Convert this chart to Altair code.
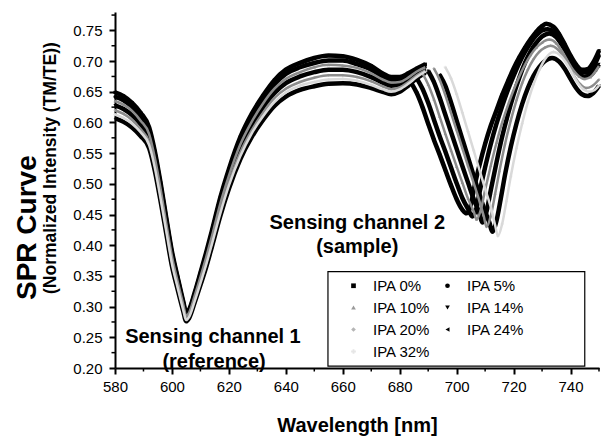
import altair as alt
import pandas as pd

series_names = ["IPA 0%", "IPA 5%", "IPA 10%", "IPA 14%", "IPA 20%", "IPA 24%", "IPA 32%"]
# legend order (filled column by column, giving rows 0/5, 10/14, 20/24, 32)
legend_order = ["IPA 0%", "IPA 10%", "IPA 20%", "IPA 32%", "IPA 5%", "IPA 14%", "IPA 24%"]
legend_shapes = ["square", "triangle-up", "diamond", "cross", "circle", "triangle-down", "triangle-left"]
legend_colors = ["#000000", "#9a9a9a", "#b5b5b5", "#e6e6e6", "#000000", "#000000", "#000000"]
black_series = ["IPA 0%", "IPA 5%", "IPA 14%", "IPA 24%"]
gray_series = ["IPA 10%", "IPA 20%"]
light_series = ["IPA 32%"]

# Sensing channel 1 (reference)
wl_ch1 = [580, 583, 586, 589, 592, 594, 596, 598, 600, 602, 604, 605, 606, 608, 610, 612, 614, 617, 620, 624,
          628, 632, 636, 640, 645, 650, 655, 660, 665, 670, 674, 677, 680, 683, 686, 689]
r_ch1_ipa0 = [.649, .643, .632, .616, .592, .553, .502, .445, .390, .348, .308, .290, .295, .323, .355, .388, .423, .478, .524, .576,
              .614, .644, .669, .686, .697, .705, .709, .708, .702, .692, .680, .674, .674, .680, .688, .695]
r_ch1_ipa5 = [.642, .636, .625, .610, .586, .548, .497, .441, .386, .345, .305, .288, .293, .320, .352, .384, .419, .473, .519, .570,
              .608, .637, .662, .679, .690, .697, .701, .701, .695, .686, .675, .669, .670, .677, .685, .693]
r_ch1_ipa10 = [.635, .629, .619, .603, .581, .542, .492, .436, .382, .341, .303, .285, .290, .318, .348, .380, .414, .468, .513, .564,
               .601, .631, .655, .671, .682, .690, .694, .693, .689, .680, .670, .665, .666, .673, .683, .690]
r_ch1_ipa14 = [.628, .622, .612, .597, .575, .537, .487, .432, .378, .338, .300, .283, .288, .315, .345, .376, .410, .463, .508, .558,
               .595, .624, .648, .664, .675, .682, .686, .686, .682, .674, .665, .660, .662, .670, .680, .688]
r_ch1_ipa20 = [.620, .614, .604, .589, .568, .531, .481, .427, .373, .334, .297, .280, .285, .312, .341, .371, .405, .457, .502, .551,
               .587, .616, .640, .655, .666, .673, .677, .677, .674, .667, .659, .654, .657, .666, .677, .685]
r_ch1_ipa24 = [.607, .601, .592, .578, .558, .521, .472, .419, .366, .328, .292, .276, .281, .307, .335, .364, .397, .448, .492, .540,
               .576, .604, .627, .642, .653, .659, .663, .664, .662, .656, .650, .646, .650, .660, .672, .681]
r_ch1_ipa32 = [.613, .607, .598, .584, .563, .526, .476, .423, .370, .331, .294, .278, .283, .309, .338, .368, .401, .452, .497, .545,
               .582, .610, .633, .649, .660, .666, .670, .671, .668, .661, .654, .650, .654, .663, .674, .683]

# Sensing channel 2 (sample)
wl_ch2_ipa0 = [684, 686, 688, 690, 692, 694, 696, 698, 700, 702, 703.5, 705, 706, 708, 710, 712, 714, 716, 718, 720,
               722, 724, 726, 728, 730, 731.5, 734, 736, 738, 740, 742, 744, 746, 748, 750]
r_ch2_ipa0 = [.665, .648, .625, .598, .572, .548, .523, .498, .475, .458, .452, .466, .49, .53, .565, .595, .62, .645, .667, .688,
              .706, .722, .736, .748, .757, .761, .756, .744, .727, .709, .694, .686, .687, .698, .717]
wl_ch2_ipa5 = [686, 688, 690, 692, 694, 696, 698, 700, 702, 704, 705.5, 707, 708, 710, 712, 714, 716, 718, 720, 722,
               724, 726, 728, 730, 732, 734, 736, 738, 740, 742, 744, 746, 748, 750]
r_ch2_ipa5 = [.672, .655, .632, .605, .578, .553, .527, .501, .477, .459, .447, .461, .485, .527, .565, .598, .627, .653, .676, .697,
              .715, .73, .742, .75, .752, .748, .737, .721, .704, .69, .682, .681, .69, .71]
wl_ch2_ipa10 = [688, 690, 692, 694, 696, 698, 700, 702, 704, 706, 707, 708.5, 710, 712, 714, 716, 718, 720, 722, 724,
                726, 728, 730, 732.5, 735, 737, 739, 741, 743, 745, 747, 749, 750]
r_ch2_ipa10 = [.68, .662, .638, .61, .582, .555, .528, .502, .476, .455, .442, .458, .49, .53, .567, .6, .628, .653, .675, .694,
               .71, .722, .73, .735, .729, .716, .7, .685, .675, .671, .674, .685, .692]
wl_ch2_ipa14 = [690, 692, 694, 696, 698, 700, 702, 704, 706, 708, 709, 710.5, 712, 714, 716, 718, 720, 722, 724, 726,
                728, 730, 732.5, 735, 737, 739, 741, 743, 745, 747, 749, 750]
r_ch2_ipa14 = [.684, .666, .641, .613, .585, .557, .529, .502, .475, .452, .437, .455, .49, .535, .577, .613, .645, .673, .697, .716,
               .73, .74, .745, .739, .726, .71, .693, .68, .674, .677, .688, .695]
wl_ch2_ipa20 = [692, 694, 696, 698, 700, 702, 704, 706, 708, 709.5, 710.5, 712, 713.5, 715, 717, 719, 721, 723, 725, 727,
                729, 731, 733, 735.5, 737.5, 739.5, 741.5, 743.5, 745.5, 747.5, 750]
r_ch2_ipa20 = [.688, .67, .645, .616, .587, .558, .529, .501, .472, .448, .43, .448, .483, .52, .565, .603, .636, .664, .686, .703,
               .715, .722, .725, .719, .707, .691, .674, .662, .656, .659, .670]
wl_ch2_ipa24 = [694, 696, 698, 700, 702, 704, 706, 708, 710, 711.5, 712.5, 714, 715.5, 717, 719, 721, 723, 725, 727, 729,
                731, 733.5, 736, 738, 740, 742, 744, 746, 748, 750]
r_ch2_ipa24 = [.678, .66, .633, .603, .573, .543, .513, .483, .455, .437, .422, .44, .476, .515, .56, .598, .63, .656, .676, .69,
               .7, .705, .699, .687, .671, .656, .646, .643, .648, .66]
wl_ch2_ipa32 = [696, 698, 700, 702, 704, 706, 708, 710, 712, 713.5, 714.5, 716, 717.5, 719, 721, 723, 725, 727, 729, 731,
                734, 736.5, 738.5, 740.5, 742.5, 744.5, 746.5, 748.5, 750]
r_ch2_ipa32 = [.69, .672, .646, .616, .585, .554, .523, .492, .462, .433, .415, .435, .472, .512, .558, .598, .633, .662, .685, .703,
               .715, .709, .697, .681, .665, .654, .65, .653, .66]

x_major = [580, 600, 620, 640, 660, 680, 700, 720, 740]
x_minor = [590, 610, 630, 650, 670, 690, 710, 730, 750]
y_major = [0.2, 0.25, 0.3, 0.35, 0.4, 0.45, 0.5, 0.55, 0.6, 0.65, 0.7, 0.75]
y_minor = [0.225, 0.275, 0.325, 0.375, 0.425, 0.475, 0.525, 0.575, 0.625, 0.675, 0.725, 0.775]

ann_text = ["Sensing channel 1", "(reference)", "Sensing channel 2", "(sample)"]
ann_wl = [614.4, 614.8, 665.1, 665.1]
ann_r = [0.25, 0.21, 0.436, 0.397]

# legend frame corners, in data units (wavelength, response)
frame_wl = [654.8, 745.0]
frame_r = [0.203, 0.357]

ch1 = [r_ch1_ipa0, r_ch1_ipa5, r_ch1_ipa10, r_ch1_ipa14, r_ch1_ipa20, r_ch1_ipa24, r_ch1_ipa32]
ch2 = [(wl_ch2_ipa0, r_ch2_ipa0), (wl_ch2_ipa5, r_ch2_ipa5), (wl_ch2_ipa10, r_ch2_ipa10),
       (wl_ch2_ipa14, r_ch2_ipa14), (wl_ch2_ipa20, r_ch2_ipa20), (wl_ch2_ipa24, r_ch2_ipa24),
       (wl_ch2_ipa32, r_ch2_ipa32)]

rows = []
for name, vals in zip(series_names, ch1):
    for w, r in zip(wl_ch1, vals):
        rows.append({"wl": w, "r": r, "series": name, "key": name + " ch1"})
for name, (wls, vals) in zip(series_names, ch2):
    for w, r in zip(wls, vals):
        rows.append({"wl": w, "r": r, "series": name, "key": name + " ch2"})
df = pd.DataFrame(rows)
ann = pd.DataFrame({"text": ann_text, "wl": ann_wl, "r": ann_r})
xminor_df = pd.DataFrame({"wl": x_minor})
yminor_df = pd.DataFrame({"r": y_minor})
frame_df = pd.DataFrame({"wl": [frame_wl[0]], "wl2": [frame_wl[1]], "r": [frame_r[0]], "r2": [frame_r[1]]})
one = pd.DataFrame({"k": [0]})

FONT = "Liberation Sans"

x_scale = alt.Scale(domain=[580, 750], nice=False, zero=False)
y_scale = alt.Scale(domain=[0.2, 0.78], nice=False, zero=False)
x_axis = alt.Axis(values=x_major, title="Wavelength [nm]", format="d", ticks=True, tickSize=6,
                  labelPadding=5, labelFlush=False, labelOverlap=False,
                  labelFont=FONT, labelFontSize=15, labelColor="black",
                  domainColor="black", domainWidth=2, tickColor="black", tickWidth=2, grid=False,
                  titleFont=FONT, titleColor="black",
                  titleFontSize=20, titleFontWeight="bold", titlePadding=21)
y_axis = alt.Axis(values=y_major, title=None, format=".2f", ticks=True, tickSize=6,
                  labelPadding=7, labelOverlap=False,
                  labelFont=FONT, labelFontSize=15, labelColor="black",
                  domainColor="black", domainWidth=2, tickColor="black", tickWidth=2, grid=False)
X = alt.X("wl:Q", scale=x_scale, axis=x_axis)
Y = alt.Y("r:Q", scale=y_scale, axis=y_axis)

base = alt.Chart(df)

# legend frame (styling only), placed through the chart scales
frame = alt.Chart(frame_df).mark_rect(fill="white", stroke="black", strokeWidth=1.2).encode(
    x=X, x2="wl2:Q", y=Y, y2="r2:Q")

points = base.mark_point(filled=True, size=10, opacity=1).encode(
    x=X, y=Y,
    color=alt.Color("series:N", scale=alt.Scale(domain=legend_order, range=legend_colors),
                    legend=alt.Legend(title=None, orient="none", legendX=213, legendY=257, columns=2,
                                      padding=9,
                                      labelFont=FONT, labelFontSize=15, labelColor="black",
                                      symbolSize=22, symbolStrokeWidth=0, rowPadding=6,
                                      columnPadding=0, labelOffset=12, symbolOffset=9)),
    shape=alt.Shape("series:N", scale=alt.Scale(domain=legend_order, range=legend_shapes)),
)

black_lines = base.transform_filter(alt.FieldOneOfPredicate(field="series", oneOf=black_series)).mark_line(
    color="black", strokeWidth=4.5, interpolate="monotone").encode(x=X, y=Y, detail="key:N")
gray_lines = base.transform_filter(alt.FieldOneOfPredicate(field="series", oneOf=gray_series)).mark_line(
    color="#8c8c8c", strokeWidth=2.5, interpolate="monotone").encode(x=X, y=Y, detail="key:N")
light_lines = base.transform_filter(alt.FieldOneOfPredicate(field="series", oneOf=light_series)).mark_line(
    color="#d9d9d9", strokeWidth=2.5, interpolate="monotone").encode(x=X, y=Y, detail="key:N")

xminor = alt.Chart(xminor_df).mark_rule(color="black", strokeWidth=1.5).encode(
    x=X, y=alt.value(356), y2=alt.value(359.5))
yminor = alt.Chart(yminor_df).mark_rule(color="black", strokeWidth=1.5).encode(
    y=Y, x=alt.value(0), x2=alt.value(-3.5))

labels = alt.Chart(ann).mark_text(font=FONT, fontSize=20, fontWeight="bold", color="black").encode(
    x=X, y=Y, text="text:N")

ytitle1 = alt.Chart(one).mark_text(font=FONT, fontSize=28, fontWeight="bold", angle=270, align="left",
                                   baseline="middle", color="black").encode(
    x=alt.value(-87), y=alt.value(288), text=alt.value("SPR Curve"))
ytitle2 = alt.Chart(one).mark_text(font=FONT, fontSize=17.5, fontWeight="bold", angle=270, align="left",
                                   baseline="middle", color="black").encode(
    x=alt.value(-64), y=alt.value(282), text=alt.value("(Normalized Intensity (TM/TE))"))

chart = alt.layer(frame, points, black_lines, gray_lines, light_lines, xminor, yminor,
                  labels, ytitle1, ytitle2).properties(
    width=484, height=356,
    background="white",
    autosize=alt.AutoSizeParams(type="none"),
    padding={"left": 115, "top": 12, "right": 5, "bottom": 68},
).configure_view(strokeWidth=0).configure_axis(
    domainColor="black", domainWidth=2, tickColor="black", tickWidth=2, grid=False,
    labelFont=FONT, labelFontSize=15, labelColor="black", titleFont=FONT, titleColor="black",
)

chart.save("out.html", embed_options={"renderer": "svg", "actions": False})
